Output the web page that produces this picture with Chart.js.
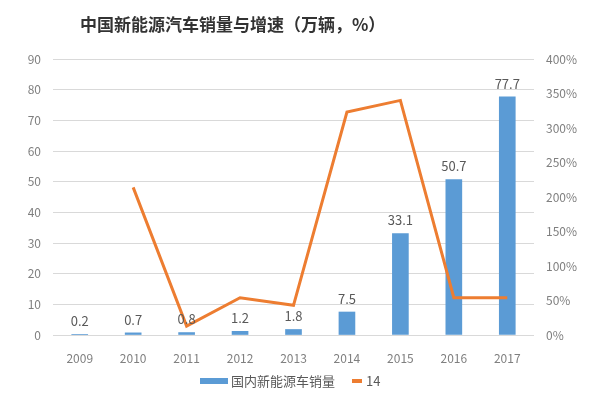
<!DOCTYPE html>
<html>
<head>
<meta charset="utf-8">
<script src="https://cdn.jsdelivr.net/npm/chart.js@4"></script>
<style>
  html, body { margin: 0; padding: 0; background: #fff; }
  #wrap { width: 600px; height: 398px; }
</style>
</head>
<body>
<div id="wrap"><canvas id="chart" width="600" height="398"></canvas></div>
<script>
const years = ['2009', '2010', '2011', '2012', '2013', '2014', '2015', '2016', '2017'];
const sales = [0.2, 0.7, 0.8, 1.2, 1.8, 7.5, 33.1, 50.7, 77.7];
const growth = [null, 214, 13, 54, 43, 323, 340, 54, 54];
const salesLabel = '国内新能源车销量';
const growthLabel = '14';
const titleText = '中国新能源汽车销量与增速（万辆，%）';

const FONT = '"Noto Sans CJK SC", "Noto Sans", sans-serif';

// title, value labels and legend drawn on the canvas
const extras = {
  id: 'extras',
  afterDraw(chart) {
    const ctx = chart.ctx;
    const x = chart.scales.x, y = chart.scales.y;
    ctx.save();

    ctx.fillStyle = '#333';
    ctx.font = 'bold 17px ' + FONT;
    ctx.textBaseline = 'middle';
    ctx.textAlign = 'left';
    ctx.fillText(titleText, 80, 25);

    ctx.fillStyle = '#595959';
    ctx.font = '13px ' + FONT;
    ctx.textAlign = 'center';
    sales.forEach((v, i) => {
      ctx.fillText(String(v), x.getPixelForValue(i), y.getPixelForValue(v) - 13);
    });

    // legend
    ctx.textAlign = 'left';
    ctx.fillStyle = '#5B9BD5';
    ctx.fillRect(200, 378, 28, 6);
    ctx.fillStyle = '#595959';
    ctx.fillText(salesLabel, 231, 381);
    ctx.fillStyle = '#ED7D31';
    ctx.fillRect(352, 379, 10, 4);
    ctx.fillStyle = '#595959';
    ctx.fillText(growthLabel, 366, 381);
    ctx.restore();
  }
};

new Chart(document.getElementById('chart'), {
  data: {
    labels: years,
    datasets: [
      {
        type: 'line',
        label: growthLabel,
        data: growth,
        yAxisID: 'y1',
        borderColor: '#ED7D31',
        borderWidth: 3,
        pointRadius: 0,
        tension: 0,
        order: 0
      },
      {
        type: 'bar',
        label: salesLabel,
        data: sales,
        yAxisID: 'y',
        backgroundColor: '#5B9BD5',
        barThickness: 16,
        order: 1
      }
    ]
  },
  options: {
    responsive: false,
    animation: false,
    layout: { padding: { top: 59, bottom: 0, left: 0, right: 0 } },
    plugins: {
      legend: { display: false },
      title: { display: false },
      tooltip: { enabled: false }
    },
    scales: {
      x: {
        grid: { display: false },
        border: { display: false },
        ticks: { color: '#7f7f7f', font: { size: 12, family: FONT }, padding: 8 },
        afterFit(s) { s.height = 63; }
      },
      y: {
        position: 'left',
        min: 0, max: 90,
        ticks: { stepSize: 10, color: '#7f7f7f', font: { size: 12, family: FONT }, padding: 12 },
        grid: { color: '#d9d9d9', drawTicks: false },
        border: { display: false },
        afterFit(s) { s.width = 53; }
      },
      y1: {
        position: 'right',
        min: 0, max: 400,
        ticks: {
          stepSize: 50, color: '#7f7f7f', font: { size: 12, family: FONT }, padding: 12,
          callback: v => v + '%'
        },
        grid: { display: false, drawTicks: false },
        border: { display: false },
        afterFit(s) { s.width = 66; }
      }
    }
  },
  plugins: [extras]
});
</script>
</body>
</html>
